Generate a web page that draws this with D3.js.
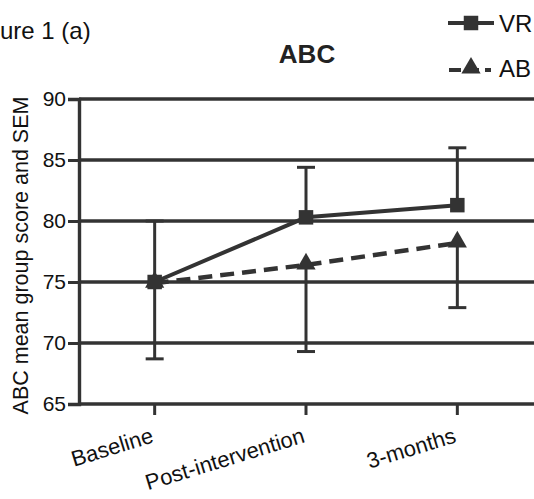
<!DOCTYPE html>
<html>
<head>
<meta charset="utf-8">
<script src="https://cdn.jsdelivr.net/npm/d3@7"></script>
<style>
  html, body { margin: 0; padding: 0; background: #fff; }
  svg { display: block; font-family: "Liberation Sans", Arial, sans-serif; }
</style>
</head>
<body>
<script>
// ---- data ----
const categories = ["Baseline", "Post-intervention", "3-months"];
const vrMeans = [75.0, 80.3, 81.3];
const vrSem   = [5.0, 4.1, 4.7];
const abMeans = [74.9, 76.4, 78.2];
const abSem   = [6.2, 7.1, 5.3];
const yTicks  = [65, 70, 75, 80, 85, 90];
const seriesNames = ["VR", "AB"];

const W = 534, H = 499;
const ink = "#333";
const FONT = "Liberation Sans, Arial, sans-serif";
const svg = d3.select("body").append("svg").attr("width", W).attr("height", H);

const x = d3.scaleBand().domain(categories).range([79, 533]);
const xc = d => x(d) + x.bandwidth() / 2;
const y = d3.scaleLinear().domain([65, 90]).range([404, 99]);

// gridlines
svg.append("g").selectAll("line").data(yTicks).join("line")
  .attr("x1", 79).attr("x2", W)
  .attr("y1", d => y(d)).attr("y2", d => y(d))
  .attr("stroke", ink).attr("stroke-width", 3.4);

// y axis
const yAxis = svg.append("g").attr("transform", "translate(79,0)")
  .call(d3.axisLeft(y).tickValues(yTicks).tickSize(11).tickPadding(2));
yAxis.select(".domain").attr("stroke", ink).attr("stroke-width", 3.4);
yAxis.selectAll(".tick line").attr("stroke", ink).attr("stroke-width", 3);
yAxis.selectAll(".tick text").attr("font-size", 21).attr("fill", "#111")
  .attr("font-family", FONT);

// x axis
const xAxis = svg.append("g").attr("transform", "translate(0,404)")
  .call(d3.axisBottom(x).tickSize(11).tickSizeOuter(0));
xAxis.select(".domain").remove();
xAxis.selectAll(".tick line").attr("stroke", ink).attr("stroke-width", 3);
xAxis.selectAll(".tick text")
  .attr("font-size", 22).attr("fill", "#111")
  .attr("font-family", FONT)
  .attr("text-anchor", "end")
  .attr("dy", 0).attr("y", 0)
  .attr("transform", "translate(0,38) rotate(-17)");

// y axis title
svg.append("text")
  .attr("transform", `translate(28,${(93 + 418) / 2}) rotate(-90)`)
  .attr("text-anchor", "middle").attr("font-size", 21.5).attr("fill", "#111")
  .text("ABC mean group score and SEM");

// figure label & title
svg.append("text").attr("x", 0).attr("y", 39).attr("font-size", 24).attr("fill", "#111")
  .text("ure 1 (a)");
svg.append("text").attr("x", 307).attr("y", 63).attr("text-anchor", "middle")
  .attr("font-size", 26).attr("font-weight", "bold").attr("fill", "#222")
  .text("ABC");

// error bars
const vrData = categories.map((c, i) => ({c, m: vrMeans[i], s: vrSem[i]}));
const abData = categories.map((c, i) => ({c, m: abMeans[i], s: abSem[i]}));
const capW = 9;
function errBars(data, dir) {
  const g = svg.append("g").attr("stroke", ink).attr("stroke-width", 3);
  g.selectAll(".v").data(data).join("line")
    .attr("x1", d => xc(d.c)).attr("x2", d => xc(d.c))
    .attr("y1", d => y(d.m)).attr("y2", d => y(d.m + dir * d.s));
  g.selectAll(".cap").data(data).join("line")
    .attr("x1", d => xc(d.c) - capW).attr("x2", d => xc(d.c) + capW)
    .attr("y1", d => y(d.m + dir * d.s)).attr("y2", d => y(d.m + dir * d.s));
}
errBars(vrData, 1);
errBars(abData, -1);

// lines
const line = d3.line().x(d => xc(d.c)).y(d => y(d.m));
svg.append("path").datum(abData).attr("d", line)
  .attr("fill", "none").attr("stroke", ink).attr("stroke-width", 4.5)
  .attr("stroke-dasharray", "14,8");
svg.append("path").datum(vrData).attr("d", line)
  .attr("fill", "none").attr("stroke", ink).attr("stroke-width", 4);

// markers
const sq = d3.symbol().type(d3.symbolSquare).size(210);
const tri = d3.symbol().type(d3.symbolTriangle).size(160);
svg.append("g").selectAll("path").data(abData).join("path")
  .attr("d", tri).attr("transform", d => `translate(${xc(d.c)},${y(d.m) - 1})`)
  .attr("fill", ink);
svg.append("g").selectAll("path").data(vrData).join("path")
  .attr("d", sq).attr("transform", d => `translate(${xc(d.c)},${y(d.m)})`)
  .attr("fill", ink);

// legend
const leg = svg.append("g");
leg.append("line").attr("x1", 448).attr("x2", 494).attr("y1", 23).attr("y2", 23)
  .attr("stroke", ink).attr("stroke-width", 4);
leg.append("path").attr("d", sq).attr("transform", "translate(471,23)").attr("fill", ink);
leg.append("text").attr("x", 499).attr("y", 32).attr("font-size", 24).attr("fill", "#111")
  .text(seriesNames[0]);
leg.append("line").attr("x1", 449).attr("x2", 491).attr("y1", 70).attr("y2", 70)
  .attr("stroke", ink).attr("stroke-width", 4).attr("stroke-dasharray", "12,6");
leg.append("path").attr("d", tri).attr("transform", "translate(471,68)").attr("fill", ink);
leg.append("text").attr("x", 499).attr("y", 77).attr("font-size", 24).attr("fill", "#111")
  .text(seriesNames[1]);
</script>
</body>
</html>
